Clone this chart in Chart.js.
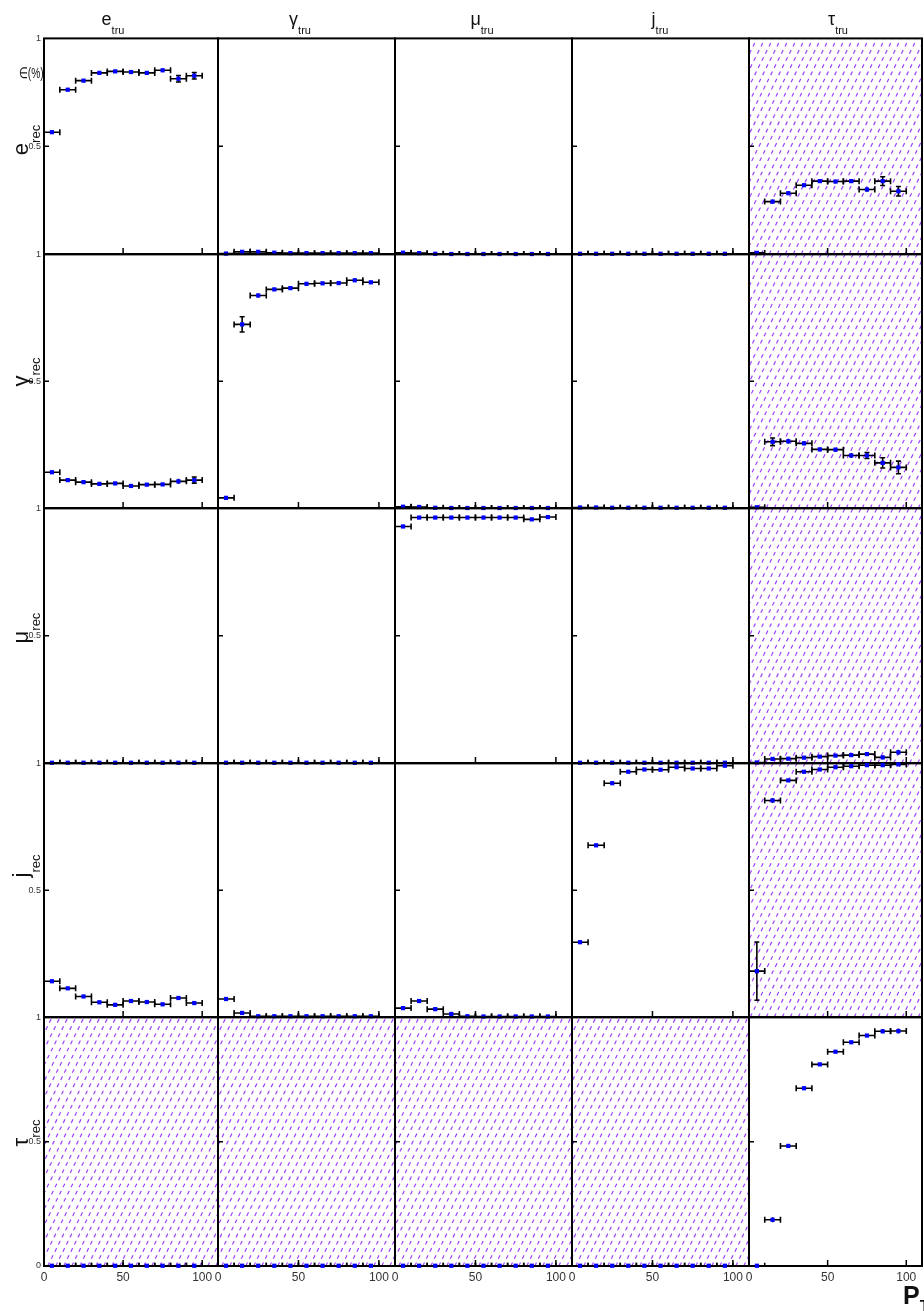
<!DOCTYPE html>
<html>
<head>
<meta charset="utf-8">
<script src="https://cdn.jsdelivr.net/npm/chart.js@4.4.1/dist/chart.umd.min.js"></script>
<style>
  body { margin: 0; width: 924px; height: 1311px; position: relative; overflow: hidden; background: #fff;
         font-family: 'Liberation Sans', Arial, sans-serif; }
  canvas { position: absolute; }
  .lbl { position: absolute; white-space: nowrap; color: #111; line-height: 1; }
</style>
</head>
<body>
<script>
// pT bins (GeV), centres and half width
const ptBins = [5, 15, 25, 35, 45, 55, 65, 75, 85, 95];
const binHalfWidth = 5;
const particles = ['e', 'γ', 'μ', 'j', 'τ'];
const xTickValues = [0, 50, 100];
const yTickValues = [0, 0.5, 1];

// efficiency of reconstructing X from each true particle (e, γ, μ, j, τ)
const effERec = [
  [0.565, 0.762, 0.804, 0.840, 0.847, 0.844, 0.840, 0.852, 0.813, 0.827],
  [0.002, 0.010, 0.010, 0.006, 0.004, 0.004, 0.004, 0.004, 0.004, 0.004],
  [0.006, 0.004, 0.001, 0.000, 0.000, 0.000, 0.000, 0.000, 0.000, 0.000],
  [0.001, 0.001, 0.001, 0.001, 0.001, 0.001, 0.001, 0.001, 0.001, 0.001],
  [0.005, 0.243, 0.282, 0.319, 0.338, 0.336, 0.338, 0.299, 0.338, 0.291]
];
const errERec = [
  [0.006, 0.005, 0.005, 0.004, 0.004, 0.005, 0.005, 0.008, 0.015, 0.015],
  [0.002, 0.004, 0.003, 0.002, 0.002, 0.002, 0.002, 0.002, 0.002, 0.002],
  [0.002, 0.002, 0.001, 0, 0, 0, 0, 0, 0, 0],
  [0, 0, 0, 0, 0, 0, 0, 0, 0, 0],
  [0.004, 0.010, 0.008, 0.007, 0.007, 0.008, 0.009, 0.010, 0.020, 0.022]
];

const effGammaRec = [
  [0.141, 0.110, 0.102, 0.095, 0.097, 0.087, 0.092, 0.093, 0.105, 0.110],
  [0.040, 0.724, 0.838, 0.862, 0.867, 0.884, 0.886, 0.887, 0.898, 0.890],
  [0.005, 0.004, 0.001, 0.000, 0.000, 0.000, 0.000, 0.000, 0.000, 0.000],
  [0.002, 0.002, 0.001, 0.001, 0.001, 0.001, 0.001, 0.001, 0.001, 0.001],
  [0.003, 0.261, 0.263, 0.255, 0.231, 0.230, 0.207, 0.207, 0.178, 0.160]
];
const errGammaRec = [
  [0.004, 0.004, 0.004, 0.004, 0.004, 0.004, 0.004, 0.006, 0.010, 0.012],
  [0.005, 0.030, 0.008, 0.006, 0.005, 0.005, 0.005, 0.005, 0.006, 0.006],
  [0.002, 0.002, 0, 0, 0, 0, 0, 0, 0, 0],
  [0, 0, 0, 0, 0, 0, 0, 0, 0, 0],
  [0.003, 0.015, 0.010, 0.008, 0.007, 0.008, 0.010, 0.012, 0.020, 0.025]
];

const effMuRec = [
  [0.001, 0.001, 0.001, 0.001, 0.001, 0.001, 0.001, 0.001, 0.001, 0.001],
  [0.001, 0.001, 0.001, 0.001, 0.001, 0.001, 0.001, 0.001, 0.001, 0.001],
  [0.929, 0.964, 0.964, 0.964, 0.964, 0.964, 0.964, 0.964, 0.957, 0.966],
  [0.001, 0.001, 0.001, 0.001, 0.001, 0.001, 0.001, 0.001, 0.001, 0.001],
  [0.002, 0.016, 0.017, 0.021, 0.025, 0.029, 0.031, 0.035, 0.022, 0.042]
];
const errMuRec = [
  [0, 0, 0, 0, 0, 0, 0, 0, 0, 0],
  [0, 0, 0, 0, 0, 0, 0, 0, 0, 0],
  [0.003, 0.002, 0.002, 0.002, 0.002, 0.002, 0.002, 0.002, 0.003, 0.003],
  [0, 0, 0, 0, 0, 0, 0, 0, 0, 0],
  [0.002, 0.004, 0.004, 0.004, 0.004, 0.005, 0.005, 0.006, 0.007, 0.010]
];

const effJetRec = [
  [0.141, 0.113, 0.081, 0.058, 0.048, 0.063, 0.059, 0.050, 0.075, 0.055],
  [0.071, 0.016, 0.003, 0.003, 0.003, 0.003, 0.003, 0.003, 0.003, 0.003],
  [0.035, 0.063, 0.031, 0.012, 0.003, 0.002, 0.002, 0.002, 0.002, 0.002],
  [0.295, 0.677, 0.922, 0.967, 0.976, 0.975, 0.985, 0.980, 0.980, 0.991],
  [0.181, 0.854, 0.933, 0.967, 0.976, 0.985, 0.989, 0.993, 0.993, 0.996]
];
const errJetRec = [
  [0.004, 0.004, 0.004, 0.004, 0.004, 0.004, 0.005, 0.006, 0.008, 0.008],
  [0.003, 0.004, 0.002, 0, 0, 0, 0, 0, 0, 0],
  [0.003, 0.004, 0.003, 0.002, 0, 0, 0, 0, 0, 0],
  [0.003, 0.003, 0.003, 0.002, 0.002, 0.002, 0.002, 0.002, 0.002, 0.002],
  [0.115, 0.010, 0.006, 0.004, 0.003, 0.003, 0.003, 0.003, 0.003, 0.003]
];

const effTauRec = [
  [0.001, 0.001, 0.001, 0.001, 0.001, 0.001, 0.001, 0.001, 0.001, 0.001],
  [0.001, 0.001, 0.001, 0.001, 0.001, 0.001, 0.001, 0.001, 0.001, 0.001],
  [0.001, 0.001, 0.001, 0.001, 0.001, 0.001, 0.001, 0.001, 0.001, 0.001],
  [0.001, 0.001, 0.001, 0.001, 0.001, 0.001, 0.001, 0.001, 0.001, 0.001],
  [0.001, 0.186, 0.483, 0.715, 0.811, 0.862, 0.900, 0.927, 0.944, 0.945]
];
const errTauRec = [
  [0, 0, 0, 0, 0, 0, 0, 0, 0, 0],
  [0, 0, 0, 0, 0, 0, 0, 0, 0, 0],
  [0, 0, 0, 0, 0, 0, 0, 0, 0, 0],
  [0, 0, 0, 0, 0, 0, 0, 0, 0, 0],
  [0.001, 0.010, 0.008, 0.006, 0.005, 0.005, 0.005, 0.006, 0.008, 0.010]
];

const effRows = [effERec, effGammaRec, effMuRec, effJetRec, effTauRec];
const errRows = [errERec, errGammaRec, errMuRec, errJetRec, errTauRec];

// panel geometry (pixels on the page)
const colLeft = [44, 218, 395, 572, 749];
const colRight = [218, 395, 572, 749, 922];
const rowTop = [38, 254, 508, 763, 1017];
const rowBottom = [254, 508, 763, 1017, 1266];
const AXIS_W = 30, AXIS_H = 24, PAD_T = 8, PAD_R = 4;

Chart.defaults.font.family = "'Liberation Sans', Arial, sans-serif";

// hatch, frame, inward ticks and error bars, all before the markers
const panelDecor = {
  id: 'panelDecor',
  beforeDatasetsDraw(chart, args, opts) {
    const { ctx, chartArea: a, scales: { x, y } } = chart;
    ctx.save();
    if (opts.hatched) {
      ctx.save();
      ctx.beginPath();
      ctx.rect(a.left, a.top, a.right - a.left, a.bottom - a.top);
      ctx.clip();
      ctx.strokeStyle = '#a040ff';
      ctx.lineWidth = 1.2;
      ctx.setLineDash([4, 4]);
      const h = a.bottom - a.top;
      for (let x0 = a.left - h / 2; x0 < a.right + 8; x0 += 8) {
        ctx.beginPath();
        ctx.moveTo(x0, a.bottom);
        ctx.lineTo(x0 + h / 2, a.top);
        ctx.stroke();
      }
      ctx.restore();
    }

    // frame
    ctx.strokeStyle = '#000';
    ctx.lineWidth = 2;
    ctx.strokeRect(a.left, a.top, a.right - a.left, a.bottom - a.top);

    // inward ticks
    ctx.lineWidth = 1.5;
    ctx.beginPath();
    x.ticks.forEach(t => {
      if (t.value <= x.min) return;
      const px = x.getPixelForValue(t.value);
      ctx.moveTo(px, a.bottom);
      ctx.lineTo(px, a.bottom - 6);
    });
    y.ticks.forEach(t => {
      if (t.value <= y.min || t.value >= y.max) return;
      const py = y.getPixelForValue(t.value);
      ctx.moveTo(a.left, py);
      ctx.lineTo(a.left + 5, py);
    });
    ctx.stroke();

    // error bars
    ctx.beginPath();
    ctx.rect(a.left, a.top - 2, a.right - a.left, a.bottom - a.top + 2);
    ctx.clip();
    ctx.lineWidth = 1.6;
    chart.data.datasets.forEach(ds => {
      ds.data.forEach(p => {
        const px = x.getPixelForValue(p.x);
        const py = y.getPixelForValue(p.y);
        const xl = x.getPixelForValue(p.x - binHalfWidth);
        const xr = x.getPixelForValue(p.x + binHalfWidth);
        const yt = y.getPixelForValue(p.y + p.err);
        const yb = y.getPixelForValue(p.y - p.err);
        ctx.beginPath();
        ctx.moveTo(xl, py); ctx.lineTo(xr, py);
        ctx.moveTo(xl, py - 3); ctx.lineTo(xl, py + 3);
        ctx.moveTo(xr, py - 3); ctx.lineTo(xr, py + 3);
        if (yb - yt > 1) {
          ctx.moveTo(px, yt); ctx.lineTo(px, yb);
          if (yb - yt > 6) {
            ctx.moveTo(px - 2.5, yt); ctx.lineTo(px + 2.5, yt);
            ctx.moveTo(px - 2.5, yb); ctx.lineTo(px + 2.5, yb);
          }
        }
        ctx.stroke();
      });
    });
    ctx.restore();
  }
};

function makePanel(r, c) {
  const w = AXIS_W + (colRight[c] - colLeft[c]) + PAD_R;
  const h = PAD_T + (rowBottom[r] - rowTop[r]) + AXIS_H;
  const canvas = document.createElement('canvas');
  canvas.width = w;
  canvas.height = h;
  canvas.style.left = (colLeft[c] - AXIS_W) + 'px';
  canvas.style.top = (rowTop[r] - PAD_T) + 'px';
  document.body.appendChild(canvas);

  const pts = ptBins.map((b, i) => ({ x: b, y: effRows[r][c][i], err: errRows[r][c][i] }));
  const hatched = (r === 4) !== (c === 4);

  new Chart(canvas, {
    type: 'scatter',
    data: {
      datasets: [{
        data: pts,
        backgroundColor: '#0000ff',
        borderWidth: 0,
        pointStyle: 'rect',
        pointRadius: 3,
        clip: false
      }]
    },
    options: {
      responsive: false,
      animation: false,
      events: [],
      layout: { padding: { top: PAD_T, right: PAD_R, left: 0, bottom: 0 } },
      plugins: {
        legend: { display: false },
        tooltip: { enabled: false },
        panelDecor: { hatched: hatched }
      },
      scales: {
        x: {
          type: 'linear', min: 0, max: 110,
          grid: { display: false, drawTicks: false },
          border: { display: false },
          afterBuildTicks: s => { s.ticks = xTickValues.map(v => ({ value: v })); },
          afterFit: s => { s.height = AXIS_H; },
          ticks: {
            maxRotation: 0, autoSkip: false, padding: 4,
            color: '#333', font: { size: 12 },
            callback: v => r === 4 ? String(v) : ''
          }
        },
        y: {
          type: 'linear', min: 0, max: 1,
          grid: { display: false, drawTicks: false },
          border: { display: false },
          afterBuildTicks: s => { s.ticks = yTickValues.map(v => ({ value: v })); },
          afterFit: s => { s.width = AXIS_W; },
          ticks: {
            autoSkip: false, padding: 3,
            color: '#333', font: { size: 9 },
            callback: v => {
              if (c !== 0) return '';
              if (v === 0) return r === 4 ? '0' : '';
              return String(v);
            }
          }
        }
      }
    },
    plugins: [panelDecor]
  });
}

for (let r = 0; r < 5; r++) {
  for (let c = 0; c < 5; c++) makePanel(r, c);
}

// titles as text
function addLabel(main, sub, cx, cy, size, subSize, drop, rotate) {
  const d = document.createElement('div');
  d.className = 'lbl';
  d.innerHTML = main + '<span style="font-size:' + subSize + 'px;position:relative;top:' +
    drop + 'px">' + sub + '</span>';
  d.style.fontSize = size + 'px';
  d.style.left = cx + 'px';
  d.style.top = cy + 'px';
  d.style.transform = 'translate(-50%,-50%)' + (rotate ? ' rotate(-90deg)' : '');
  document.body.appendChild(d);
}

const colTitleX = [113, 300, 482, 660, 838];
const rowTitleY = [140, 372, 628, 866, 1133];
particles.forEach((p, i) => addLabel(p, 'tru', colTitleX[i], 19, 18, 11, 9, false));
particles.forEach((p, i) => addLabel(p, 'rec', 21, rowTitleY[i], 22, 13, 12, true));

const effLbl = document.createElement('div');
effLbl.className = 'lbl';
effLbl.style.cssText = 'left:19px;top:65px;font-size:15px;transform:scaleX(0.68);transform-origin:0 0;';
effLbl.textContent = '∈(%)';
document.body.appendChild(effLbl);

const ptLbl = document.createElement('div');
ptLbl.className = 'lbl';
ptLbl.style.cssText = 'left:903px;top:1283px;font-size:25px;font-weight:bold;';
ptLbl.innerHTML = 'P<span style="font-size:16px;position:relative;top:8px">T</span>';
document.body.appendChild(ptLbl);
</script>
</body>
</html>
